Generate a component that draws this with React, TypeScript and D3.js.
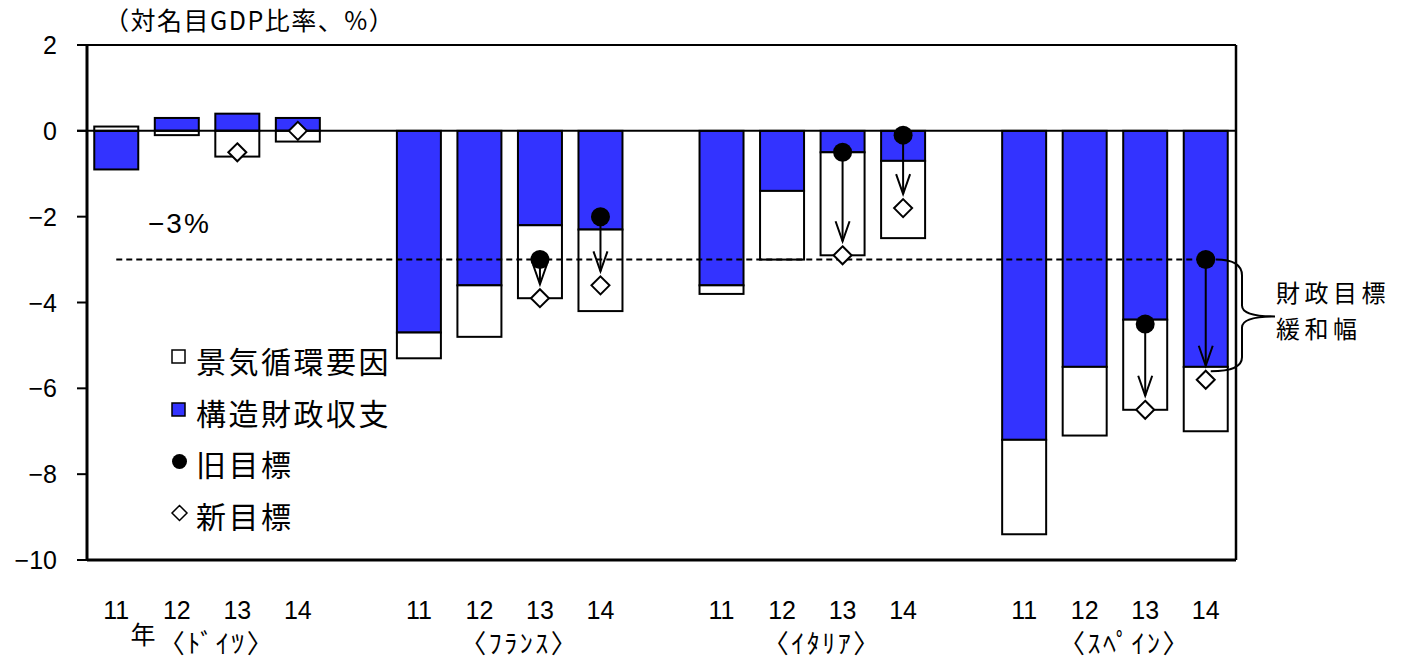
import React from "react";
import * as d3 from "d3";

const years = ["11", "12", "13", "14"];
const countries = ["〈ﾄﾞｲﾂ〉", "〈ﾌﾗﾝｽ〉", "〈ｲﾀﾘｱ〉", "〈ｽﾍﾟｲﾝ〉"];
// 構造財政収支 (structural balance)
const structural = [-0.9, 0.3, 0.4, 0.3, -4.7, -3.6, -2.2, -2.3, -3.6, -1.4, -0.5, -0.7, -7.2, -5.5, -4.4, -5.5];
// 景気循環要因 (cyclical component)
const cyclical = [0.1, -0.1, -0.6, -0.25, -0.6, -1.2, -1.7, -1.9, -0.2, -1.6, -2.4, -1.8, -2.2, -1.6, -2.1, -1.5];
// 旧目標 (old target)
const oldTarget: (number | null)[] = [null, null, null, null, null, null, -3.0, -2.0, null, null, -0.5, -0.1, null, null, -4.5, -3.0];
// 新目標 (new target)
const newTarget: (number | null)[] = [null, null, -0.5, 0.0, null, null, -3.9, -3.6, null, null, -2.9, -1.8, null, null, -6.5, -5.8];
const yTicks = [2, 0, -2, -4, -6, -8, -10];
const legendLabels = ["景気循環要因", "構造財政収支", "旧目標", "新目標"];
const deficitLimit = -3;

const BLUE = "#3333FF";
const CJK = "'Noto Sans CJK JP', 'Noto Sans', sans-serif";
const NUM = "'Liberation Sans', Arial, sans-serif";

export default function App() {
  const W = 1405, H = 659;
  const left = 86, right = 1236, top = 45, bottom = 560;
  const axisX = 87;

  // slots: 4 groups of 4 bars, with one empty slot between groups
  const slots: string[] = [];
  countries.forEach((c, gi) => {
    years.forEach((yv) => slots.push(`${gi}-${yv}`));
    if (gi < countries.length - 1) slots.push(`gap${gi}`);
  });
  const x = d3.scaleBand<string>().domain(slots).range([left, right]).padding(0);
  const y = d3.scaleLinear().domain([-10, 2]).range([bottom, top]);
  const barW = 44;

  const items = structural.map((s, i) => {
    const gi = Math.floor(i / 4);
    const key = `${gi}-${years[i % 4]}`;
    const cx = (x(key) as number) + x.bandwidth() / 2;
    // Excel-like stacking: positives and negatives stacked separately
    let pos = 0, neg = 0;
    const segs: { y0: number; y1: number; fill: string }[] = [];
    [[s, BLUE], [cyclical[i], "#fff"]].forEach(([v, fill]) => {
      const val = v as number;
      if (val >= 0) { segs.push({ y0: pos, y1: pos + val, fill: fill as string }); pos += val; }
      else { segs.push({ y0: neg, y1: neg + val, fill: fill as string }); neg += val; }
    });
    return { cx, segs, old: oldTarget[i], nw: newTarget[i] };
  });

  const firstCx = items[0].cx;
  const lastCx = items[items.length - 1].cx;

  const diamond = (cx: number, cy: number, r: number) =>
    `M${cx},${cy - r}L${cx + r},${cy}L${cx},${cy + r}L${cx - r},${cy}Z`;

  // brace
  const bTop = y(deficitLimit);
  const bBot = y(-5.6);
  const bx = 1242;
  const bMid = (bTop + bBot) / 2 + 1;
  const brace = `M${lastCx + 10},${bTop} Q${bx},${bTop} ${bx},${bTop + 16} L${bx},${bMid - 11} Q${bx},${bMid} ${bx + 33},${bMid} Q${bx},${bMid} ${bx},${bMid + 11} L${bx},${bBot - 14} Q${bx},${bBot} ${lastCx + 5},${bBot}`;

  return (
    <svg width={W} height={H} style={{ position: "absolute", left: 0, top: 0, background: "#fff" }}>
      <rect x={0} y={0} width={W} height={H} fill="#fff" />
      {/* title */}
      <text x={104} y={30} fontFamily={CJK} fontSize={25} letterSpacing={1.5} fill="#000">（対名目GDP比率、%）</text>

      {/* bars */}
      {items.map((it, i) => (
        <g key={i}>
          {it.segs.map((sg, j) => (
            <rect key={j} x={it.cx - barW / 2} width={barW}
              y={Math.min(y(sg.y0), y(sg.y1))} height={Math.abs(y(sg.y1) - y(sg.y0))}
              fill={sg.fill} stroke="#000" strokeWidth={2} />
          ))}
        </g>
      ))}

      {/* zero line */}
      <line x1={77} x2={right} y1={y(0)} y2={y(0)} stroke="#000" strokeWidth={2} />

      {/* frame */}
      <line x1={axisX} x2={right} y1={top} y2={top} stroke="#000" strokeWidth={2} />
      <line x1={axisX} x2={right} y1={bottom} y2={bottom} stroke="#000" strokeWidth={3} />
      <line x1={right} x2={right} y1={top} y2={bottom} stroke="#000" strokeWidth={2.5} />
      <line x1={axisX} x2={axisX} y1={top - 1} y2={bottom + 1} stroke="#000" strokeWidth={3} />
      {yTicks.map((t) => (
        <g key={t}>
          <line x1={77} x2={axisX} y1={y(t)} y2={y(t)} stroke="#000" strokeWidth={2} />
          <text x={57} y={y(t) + 9} textAnchor="end" fontFamily={NUM} fontSize={25} fill="#000">
            {t < 0 ? `−${-t}` : `${t}`}
          </text>
        </g>
      ))}

      {/* -3% dashed line */}
      <line x1={firstCx} x2={lastCx} y1={y(deficitLimit)} y2={y(deficitLimit)} stroke="#000" strokeWidth={2} strokeDasharray="6,4" />
      <text x={148} y={y(deficitLimit) - 27} fontFamily={NUM} fontSize={28} letterSpacing={2} fill="#000">−3%</text>

      {/* arrows */}
      {items.map((it, i) => {
        if (it.old == null || it.nw == null) return null;
        const y1 = y(it.old);
        const tip = y(it.nw) - 14;
        return (
          <g key={`a${i}`} stroke="#000" strokeWidth={2} fill="none">
            <line x1={it.cx} x2={it.cx} y1={y1} y2={tip} />
            <path d={`M${it.cx - 7},${tip - 20}L${it.cx},${tip}L${it.cx + 7},${tip - 20}`} />
          </g>
        );
      })}

      {/* old target dots */}
      {items.map((it, i) => it.old == null ? null : (
        <circle key={`o${i}`} cx={it.cx} cy={y(it.old)} r={9.5} fill="#000" />
      ))}
      {/* new target diamonds */}
      {items.map((it, i) => it.nw == null ? null : (
        <path key={`n${i}`} d={diamond(it.cx, y(it.nw), 9)} fill="#fff" stroke="#000" strokeWidth={2} />
      ))}

      {/* brace + annotation */}
      <path d={brace} fill="none" stroke="#000" strokeWidth={2} />
      <text x={1276} y={302} fontFamily={CJK} fontSize={24} letterSpacing={4.5} fill="#000">財政目標</text>
      <text x={1276} y={338} fontFamily={CJK} fontSize={24} letterSpacing={4.5} fill="#000">緩和幅</text>

      {/* legend */}
      <g>
        <rect x={172} y={350} width={13} height={13} fill="#fff" stroke="#000" strokeWidth={1.5} />
        <rect x={172} y={403} width={13} height={13} fill={BLUE} stroke="#000" strokeWidth={1.5} />
        <circle cx={179.5} cy={461.5} r={7.5} fill="#000" />
        <path d={diamond(179.5, 513, 7.5)} fill="#fff" stroke="#000" strokeWidth={1.5} />
        {legendLabels.map((l, i) => (
          <text key={l} x={196} y={373 + i * 51.5} fontFamily={CJK} fontSize={30} letterSpacing={2.5} fill="#000">{l}</text>
        ))}
      </g>

      {/* x labels */}
      {items.map((it, i) => (
        <text key={`x${i}`} x={it.cx} y={619} textAnchor="middle" fontFamily={NUM} fontSize={25} fill="#000">
          {years[i % 4]}
        </text>
      ))}
      <text x={143} y={644} textAnchor="middle" fontFamily={CJK} fontSize={25} fill="#000">年</text>
      {countries.map((c, gi) => {
        const mid = (items[gi * 4 + 1].cx + items[gi * 4 + 2].cx) / 2 + 10;
        return (
          <text key={c} x={mid} y={653} textAnchor="middle" fontFamily={CJK} fontSize={26} letterSpacing={2.5} fill="#000">{c}</text>
        );
      })}
    </svg>
  );
}
